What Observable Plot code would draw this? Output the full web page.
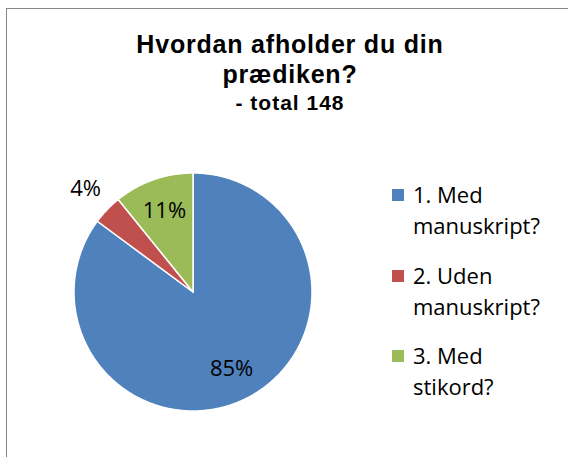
<!DOCTYPE html>
<html>
<head>
<meta charset="utf-8">
<script src="https://cdn.jsdelivr.net/npm/d3@7"></script>
<script src="https://cdn.jsdelivr.net/npm/@observablehq/plot@0.6"></script>
<style>
  html, body { margin: 0; padding: 0; background: #fff; }
  #chart { position: relative; width: 568px; height: 457px; overflow: hidden; background: #fff; }
  #frame { position: absolute; left: 6px; top: 8px; width: 700px; height: 600px; border: 1.3px solid #868686; box-sizing: border-box; }
  #plot { position: absolute; left: 0; top: 0; }
  .title { position: absolute; left: 90px; width: 400px; text-align: center; font-family: "Liberation Sans", Arial, sans-serif; font-weight: bold; color: #000; }
  #t1 { top: 29px; font-size: 25px; line-height: 30px; letter-spacing: 0.8px; }
  #t2 { top: 89px; font-size: 21px; line-height: 28px; letter-spacing: 1px; }
  #legend { position: absolute; left: 392px; top: 179px; font-family: "Open Sans", sans-serif; font-size: 22px; line-height: 31px; color: #000; }
  .item { position: relative; padding-left: 21px; width: 145px; margin-bottom: 18.6px; }
  .sw { position: absolute; left: 0; top: 10px; width: 12px; height: 12px; }
</style>
</head>
<body>
<div id="chart">
  <div id="frame"></div>
  <div id="plot"></div>
  <div class="title" id="t1"></div>
  <div class="title" id="t2"></div>
  <div id="legend"></div>
</div>
<script>
const categories = ["1. Med manuskript?", "2. Uden manuskript?", "3. Med stikord?"];
const counts = [126, 6, 16];
const percentLabels = ["85%", "4%", "11%"];
const colors = ["#4F81BD", "#C0504D", "#9BBB59"];
const titleLines = ["Hvordan afholder du din", "prædiken?"];
const subtitle = "- total 148";

// layout (pixels)
const W = 568, H = 457, R = 119, CX = 192.5, CY = 291.5;

const arcs = d3.pie().sort(null).value(d => d.count)(
  categories.map((c, i) => ({cat: c, count: counts[i], label: percentLabels[i]}))
);
const total = d3.sum(counts);

// slice outlines (unit circle, y up, angle clockwise from 12 o'clock)
const pts = [];
arcs.forEach(a => {
  const n = Math.max(2, Math.ceil((a.endAngle - a.startAngle) / (Math.PI / 360)));
  pts.push({cat: a.data.cat, x: 0, y: 0});
  for (let k = 0; k <= n; k++) {
    const t = a.startAngle + (a.endAngle - a.startAngle) * k / n;
    pts.push({cat: a.data.cat, x: Math.sin(t), y: Math.cos(t)});
  }
  pts.push({cat: a.data.cat, x: 0, y: 0});
});

const labels = arcs.map(a => {
  const mid = (a.startAngle + a.endAngle) / 2;
  const f = a.data.count / total < 0.05 ? 1.25 : 0.72;
  return {x: Math.sin(mid) * f, y: Math.cos(mid) * f, text: a.data.label};
});

const plot = Plot.plot({
  width: W, height: H, margin: 0,
  x: {domain: [-CX / R, (W - CX) / R], axis: null},
  y: {domain: [-(H - CY) / R, CY / R], axis: null},
  color: {domain: categories, range: colors},
  style: {background: "transparent", overflow: "visible"},
  marks: [
    Plot.line(pts, {x: "x", y: "y", z: "cat", fill: "cat", stroke: "white", strokeWidth: 1.5, strokeLinejoin: "round"}),
    Plot.text(labels, {x: "x", y: "y", text: "text", fontFamily: "Open Sans", fontSize: 22, fill: "#000", textAnchor: "middle", lineAnchor: "middle"})
  ]
});
document.getElementById("plot").appendChild(plot);

document.getElementById("t1").innerHTML = titleLines.join("<br>");
document.getElementById("t2").textContent = subtitle;

const legend = document.getElementById("legend");
categories.forEach((c, i) => {
  const item = document.createElement("div");
  item.className = "item";
  const sw = document.createElement("div");
  sw.className = "sw";
  sw.style.background = colors[i];
  item.appendChild(sw);
  item.appendChild(document.createTextNode(c));
  legend.appendChild(item);
});
</script>
</body>
</html>
